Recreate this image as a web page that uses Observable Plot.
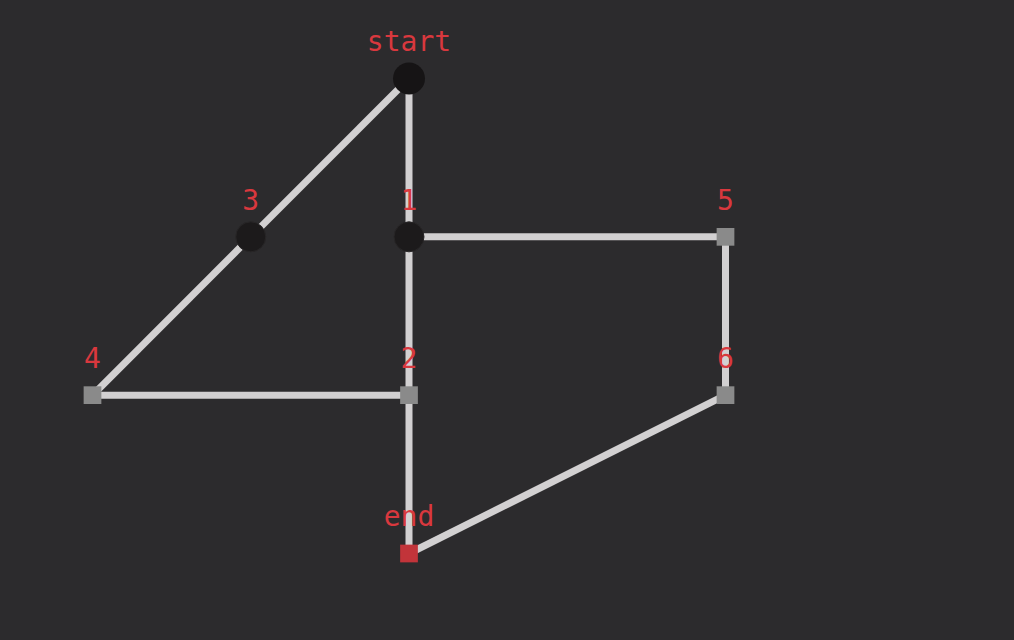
<!DOCTYPE html>
<html><head>
<script src="https://cdn.jsdelivr.net/npm/d3@7"></script>
<script src="https://cdn.jsdelivr.net/npm/@observablehq/plot@0.6"></script>
<style>body{margin:0;background:#2c2b2d}</style>
</head><body><div id="chart"></div>
<script>
const names = ["start", "1", "2", "3", "4", "5", "6", "end"];
const xs = [2, 2, 2, 1, 0, 4, 4, 2];
const ys = [0, 1, 2, 1, 2, 1, 2, 3];
const kinds = ["start", "circle", "square", "circle", "square", "square", "square", "end"];
const links = [["start","3"],["3","4"],["start","1"],["1","5"],["1","2"],["4","2"],["5","6"],["2","end"],["6","end"]];

const nodes = names.map((n, i) => ({name: n, x: xs[i], y: ys[i], kind: kinds[i]}));
const byName = new Map(nodes.map(d => [d.name, d]));
const edges = links.map(([a, b]) => ({x1: byName.get(a).x, y1: byName.get(a).y, x2: byName.get(b).x, y2: byName.get(b).y}));

const chart = Plot.plot({
  width: 1014, height: 640, margin: 0,
  style: {background: "#2c2b2d"},
  x: {domain: [0, 4], range: [92, 725], axis: null},
  y: {domain: [0, 3], range: [78, 553], axis: null},
  marks: [
    Plot.link(edges, {x1: "x1", y1: "y1", x2: "x2", y2: "y2", stroke: "#d2d0d1", strokeWidth: 7}),
    Plot.dot(nodes.filter(d => d.kind == "start"), {x: "x", y: "y", r: 16, fill: "#161415"}),
    Plot.dot(nodes.filter(d => d.kind == "circle"), {x: "x", y: "y", r: 15, fill: "#1c1a1b", stroke: "#282627", strokeWidth: 1}),
    Plot.dot(nodes.filter(d => d.kind == "square"), {x: "x", y: "y", symbol: "square", r: 10, fill: "#8a8a8a"}),
    Plot.dot(nodes.filter(d => d.kind == "end"), {x: "x", y: "y", symbol: "square", r: 10, fill: "#c2343a"}),
    Plot.text(nodes, {x: "x", y: "y", text: "name", dy: -36, fill: "#d9383e", fontSize: 28, fontFamily: "DejaVu Sans Mono"})
  ]
});
d3.select("#chart").append(() => chart);
</script>
</body></html>
